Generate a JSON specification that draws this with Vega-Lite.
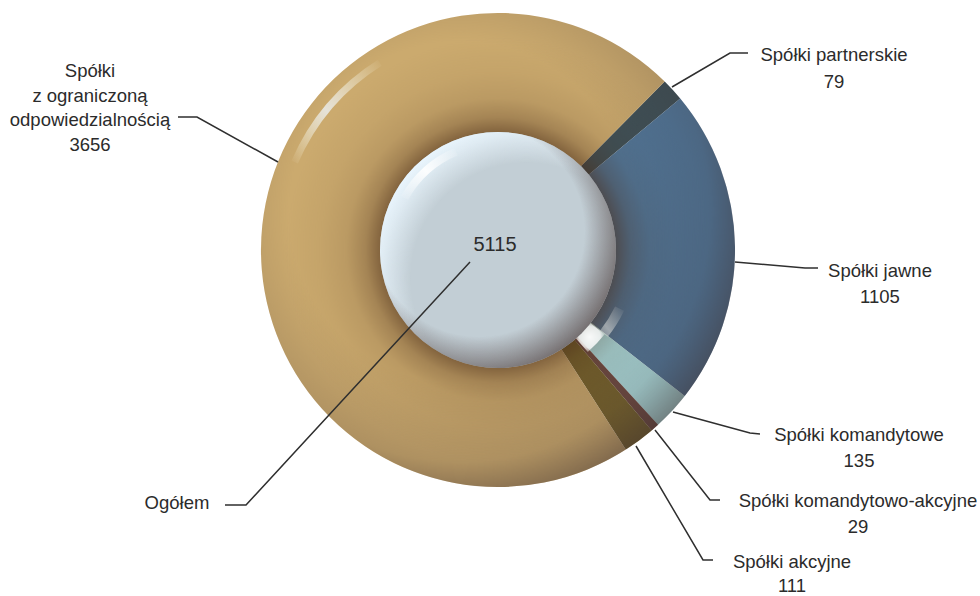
{
"$schema":"https://vega.github.io/schema/vega-lite/v6.json",
"width":980,"height":596,"padding":0,"autosize":{"type":"none"},
"background":"white","config":{"view":{"stroke":null}},
"datasets":{
"slices":[{"name":"Spółki partnerskie","value":79,"o":1},{"name":"Spółki jawne","value":1105,"o":2},{"name":"Spółki komandytowe","value":135,"o":3},{"name":"Spółki komandytowo-akcyjne","value":29,"o":4},{"name":"Spółki akcyjne","value":111,"o":5},{"name":"Spółki z ograniczoną odpowiedzialnością","value":3656,"o":6}],
"leaders":[
{"k":"a","s":1,"px":672,"py":87},{"k":"a","s":2,"px":730,"py":53},{"k":"a","s":3,"px":748,"py":53},
{"k":"b","s":1,"px":735,"py":262},{"k":"b","s":2,"px":805,"py":268},{"k":"b","s":3,"px":818,"py":268},
{"k":"c","s":1,"px":673,"py":412},{"k":"c","s":2,"px":750,"py":433},{"k":"c","s":3,"px":760,"py":434},
{"k":"d","s":1,"px":655,"py":430},{"k":"d","s":2,"px":710,"py":500},{"k":"d","s":3,"px":720,"py":500},
{"k":"e","s":1,"px":636,"py":446},{"k":"e","s":2,"px":703,"py":560},{"k":"e","s":3,"px":713,"py":560},
{"k":"f","s":1,"px":278,"py":162},{"k":"f","s":2,"px":197,"py":117},{"k":"f","s":3,"px":178,"py":117},
{"k":"g","s":1,"px":470,"py":262},{"k":"g","s":2,"px":246,"py":505},{"k":"g","s":3,"px":225,"py":505}],
"labels":[
{"t":"Spółki partnerskie","px":834,"py":55,"fs":18.5},{"t":"79","px":834,"py":82,"fs":18.5},
{"t":"Spółki","px":90,"py":71,"fs":18.5},{"t":"z ograniczoną","px":90,"py":96,"fs":18.5},{"t":"odpowiedzialnością","px":90,"py":120,"fs":18.5},{"t":"3656","px":90,"py":145,"fs":18.5},
{"t":"Spółki jawne","px":880,"py":271,"fs":18.5},{"t":"1105","px":880,"py":297,"fs":18.5},
{"t":"Spółki komandytowe","px":859,"py":435,"fs":18.5},{"t":"135","px":859,"py":461,"fs":18.5},
{"t":"Spółki komandytowo-akcyjne","px":858,"py":501,"fs":18.5},{"t":"29","px":858,"py":527,"fs":18.5},
{"t":"Spółki akcyjne","px":792,"py":562,"fs":18.5},{"t":"111","px":792,"py":586,"fs":18.5},
{"t":"Ogółem","px":177,"py":503,"fs":18.5},{"t":"5115","px":495,"py":245,"fs":20}]
},
"layer":[
{"data":{"name":"slices"},
 "mark":{"type":"arc","outerRadius":237,"innerRadius":110},
 "encoding":{
  "x":{"datum":498,"type":"quantitative","scale":{"domain":[0,980],"nice":false,"zero":false},"axis":null},
  "y":{"datum":250,"type":"quantitative","scale":{"domain":[596,0],"nice":false,"zero":false},"axis":null},
  "theta":{"field":"value","type":"quantitative","stack":true,"scale":{"range":[0.78,7.063]}},
  "order":{"field":"o"},
  "color":{"field":"name","type":"nominal","legend":null,"sort":null,"scale":{
    "domain":["Spółki partnerskie","Spółki jawne","Spółki komandytowe","Spółki komandytowo-akcyjne","Spółki akcyjne","Spółki z ograniczoną odpowiedzialnością"],
    "range":["#3e5057","#507699","#aee0e2","#6e4a42","#76632c","#cbaa6e"]}}
 }},
{"data":{"values":[{}]},
 "mark":{"type":"arc","theta":0,"theta2":6.2832,"outerRadius":237,"innerRadius":0,"fill":{"gradient":"radial","x1":0.5,"y1":0.5,"r1":0,"x2":0.5,"y2":0.5,"r2":0.5,"stops":[
   {"offset":0,"color":"rgba(75,45,25,0.55)"},{"offset":0.5,"color":"rgba(75,45,25,0.55)"},{"offset":0.56,"color":"rgba(75,45,25,0.3)"},{"offset":0.64,"color":"rgba(75,45,25,0.13)"},{"offset":0.75,"color":"rgba(75,45,25,0.05)"},{"offset":0.9,"color":"rgba(75,45,25,0)"},{"offset":1,"color":"rgba(75,45,25,0)"}]}},
 "encoding":{"x":{"datum":498,"type":"quantitative"},"y":{"datum":250,"type":"quantitative"}}},
{"data":{"values":[{}]},
 "mark":{"type":"arc","theta":0,"theta2":6.2832,"outerRadius":237,"innerRadius":0,"fill":{"gradient":"radial","x1":0.42,"y1":0.42,"r1":0,"x2":0.42,"y2":0.42,"r2":0.62,"stops":[
   {"offset":0,"color":"rgba(60,45,45,0)"},{"offset":0.58,"color":"rgba(60,45,45,0)"},{"offset":0.85,"color":"rgba(60,45,45,0.2)"},{"offset":1,"color":"rgba(60,45,45,0.55)"}]}},
 "encoding":{"x":{"datum":498,"type":"quantitative"},"y":{"datum":250,"type":"quantitative"}}},
{"data":{"values":[{}]},
 "mark":{"type":"arc","theta":5.12,"theta2":5.72,"outerRadius":225,"innerRadius":218,"fill":{"gradient":"linear","x1":0,"y1":1,"x2":1,"y2":0,"stops":[
   {"offset":0,"color":"rgba(255,255,235,0)"},{"offset":0.45,"color":"rgba(232,232,228,0.9)"},{"offset":1,"color":"rgba(255,255,235,0)"}]}},
 "encoding":{"x":{"datum":498,"type":"quantitative"},"y":{"datum":250,"type":"quantitative"}}},
{"data":{"values":[{}]},
 "mark":{"type":"arc","theta":2.02,"theta2":2.24,"outerRadius":140,"innerRadius":130,"fill":{"gradient":"linear","x1":1,"y1":0,"x2":0,"y2":1,"stops":[
   {"offset":0,"color":"rgba(225,225,220,0)"},{"offset":0.7,"color":"rgba(225,225,220,0.55)"},{"offset":1,"color":"rgba(225,225,220,0.3)"}]}},
 "encoding":{"x":{"datum":498,"type":"quantitative"},"y":{"datum":250,"type":"quantitative"}}},
{"data":{"values":[{}]},
 "mark":{"type":"arc","theta":2.24,"theta2":2.42,"outerRadius":136,"innerRadius":116,"fill":{"gradient":"radial","x1":0.5,"y1":0.5,"r1":0,"x2":0.5,"y2":0.5,"r2":0.6,"stops":[
   {"offset":0,"color":"rgba(255,255,255,0.95)"},{"offset":0.6,"color":"rgba(255,255,255,0.8)"},{"offset":1,"color":"rgba(255,255,255,0)"}]}},
 "encoding":{"x":{"datum":498,"type":"quantitative"},"y":{"datum":250,"type":"quantitative"}}},
{"data":{"values":[{}]},
 "mark":{"type":"arc","theta":0,"theta2":6.2832,"outerRadius":118,"innerRadius":0,"fill":"#c2ced5"},
 "encoding":{"x":{"datum":498,"type":"quantitative"},"y":{"datum":250,"type":"quantitative"}}},
{"data":{"values":[{}]},
 "mark":{"type":"arc","theta":0,"theta2":6.2832,"outerRadius":118,"innerRadius":0,"fill":{"gradient":"radial","x1":0.62,"y1":0.62,"r1":0,"x2":0.62,"y2":0.62,"r2":0.68,"stops":[
   {"offset":0,"color":"rgba(235,247,255,0)"},{"offset":0.72,"color":"rgba(235,247,255,0)"},{"offset":0.9,"color":"rgba(235,247,255,0.7)"},{"offset":1,"color":"rgba(235,247,255,1)"}]}},
 "encoding":{"x":{"datum":498,"type":"quantitative"},"y":{"datum":250,"type":"quantitative"}}},
{"data":{"values":[{}]},
 "mark":{"type":"arc","theta":0,"theta2":6.2832,"outerRadius":118,"innerRadius":0,"fill":{"gradient":"radial","x1":0.42,"y1":0.42,"r1":0,"x2":0.42,"y2":0.42,"r2":0.62,"stops":[
   {"offset":0,"color":"rgba(100,90,90,0)"},{"offset":0.72,"color":"rgba(100,90,90,0)"},{"offset":1,"color":"rgba(100,90,90,0.85)"}]}},
 "encoding":{"x":{"datum":498,"type":"quantitative"},"y":{"datum":250,"type":"quantitative"}}},
{"data":{"values":[{}]},
 "mark":{"type":"arc","theta":5.22,"theta2":5.88,"outerRadius":111,"innerRadius":103,"fill":{"gradient":"linear","x1":0,"y1":1,"x2":1,"y2":0,"stops":[
   {"offset":0,"color":"rgba(255,255,255,0)"},{"offset":0.5,"color":"rgba(255,255,255,0.9)"},{"offset":1,"color":"rgba(255,255,255,0)"}]}},
 "encoding":{"x":{"datum":498,"type":"quantitative"},"y":{"datum":250,"type":"quantitative"}}},
{"data":{"name":"leaders"},
 "mark":{"type":"line","color":"#2f2f2f","strokeWidth":1.5,"clip":false},
 "encoding":{"x":{"field":"px","type":"quantitative"},"y":{"field":"py","type":"quantitative"},"detail":{"field":"k"},"order":{"field":"s"}}},
{"data":{"name":"labels"},
 "mark":{"type":"text","font":"Liberation Sans","color":"#2b2b2b","align":"center","baseline":"middle"},
 "encoding":{"x":{"field":"px","type":"quantitative"},"y":{"field":"py","type":"quantitative"},"text":{"field":"t"},"size":{"field":"fs","type":"quantitative","scale":null}}}
],
"resolve":{"scale":{"theta":"independent"}}
}
